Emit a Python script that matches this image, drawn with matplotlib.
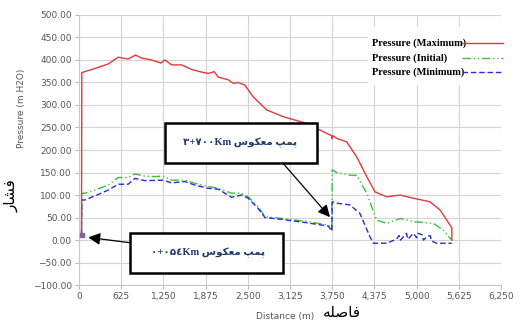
import numpy as np
import matplotlib.pyplot as plt
from matplotlib.patches import Rectangle
from matplotlib.ticker import FuncFormatter

# Maximum pressure (m H2O) along the line
x_max = [40, 44, 237, 434, 583, 731, 840, 928, 1076, 1215, 1274, 1373, 1521, 1669, 1817, 1916,
         2004, 2063, 2211, 2285, 2359, 2458, 2581, 2780, 3026, 3372, 3668, 3740, 3750, 3760, 3816,
         3964, 4112, 4261, 4384, 4557, 4754, 4951, 5198, 5346, 5494, 5520, 5522]
y_max = [12, 372, 381, 391, 406, 402, 411, 404, 400, 393, 400, 389, 389, 379, 373, 370,
         374, 362, 356, 348, 350, 344, 318, 289, 274, 259, 237, 232, 225, 232, 226,
         218, 185, 141, 107, 96, 100, 93, 85, 67, 33, 28, 0]

# Initial pressure
x_ini = [40, 44, 89, 237, 434, 583, 731, 829, 977, 1126, 1249, 1373, 1570, 1718, 1916, 2063,
         2261, 2409, 2507, 2656, 2755, 3002, 3397, 3693, 3745, 3750, 3816, 4013, 4112, 4261,
         4409, 4557, 4754, 4951, 5248, 5395, 5519]
y_ini = [12, 104, 104, 111, 122, 139, 139, 147, 142, 141, 142, 133, 133, 126, 119, 115,
         104, 104, 96, 74, 52, 48, 41, 33, 24, 156, 150, 144, 144, 104,
         44, 37, 48, 41, 37, 22, 0]

# Minimum pressure
x_min = [40, 44, 89, 237, 434, 583, 731, 829, 977, 1249, 1373, 1570, 1718, 1916, 2063, 2261,
         2409, 2507, 2656, 2755, 3002, 3397, 3693, 3745, 3750, 3816, 4013, 4161, 4310, 4359,
         4557, 4700, 4740, 4760, 4803, 4850, 4870, 4951, 5000, 5020, 5080, 5100, 5149, 5200,
         5220, 5297, 5519]
y_min = [12, 89, 89, 98, 111, 124, 124, 137, 132, 133, 127, 130, 122, 115, 113, 95,
         100, 93, 70, 50, 46, 38, 31, 20, 85, 82, 78, 59, 7, -7,
         -7, 2, 10, 0, 7, 15, 2, 15, 5, 15, 12, 0, 7, 10,
         -2, -7, -7]

legend_labels = ['Pressure (Maximum)', 'Pressure (Initial)', 'Pressure (Minimum)']
xticks = np.arange(0, 6251, 625)
yticks = np.arange(-100, 501, 50)

pump1_text = '\u06F3+\u06F7\u06F0\u06F0Km \uFEB1\uFEEE\uFB91\uFECC\uFEE3 \uFB57\uFEE4\uFB58'
pump2_text = '\u06F0+\u06F0\u06F5\u0664Km \uFEB1\uFEEE\uFB91\uFECC\uFEE3 \uFB57\uFEE4\uFB58'
pump1_at = (3717, 51)
pump2_at = (138, 6)
y_fa = '\uFEAD\uFE8E\uFEB8\uFED3'
x_fa = '\uFEEA\uFEE0\uFEBB\uFE8E\uFED3'

fig = plt.figure(figsize=(5.22, 3.24), dpi=100)
ax = fig.add_axes([0.151, 0.120, 0.809, 0.834])

styles = [dict(color='#e03a3a', lw=1.0),
          dict(color='#3cbf3c', lw=1.0, dashes=[6, 2, 1, 2, 1, 2]),
          dict(color='#2b2bd9', lw=1.0, dashes=[4, 2])]

ax.plot(x_ini, y_ini, zorder=3, **styles[1])
ax.plot(x_min, y_min, zorder=3, **styles[2])
ax.plot(x_max, y_max, zorder=4, **styles[0])
ax.plot([x_max[0]], [y_max[0]], marker='s', ms=2.5, color='#8060a0', zorder=5)

ax.set_xlim(0, 6250)
ax.set_ylim(-100, 500)
ax.set_xticks(xticks)
ax.set_yticks(yticks)
ax.xaxis.set_major_formatter(FuncFormatter(lambda v, p: f'{v:,.0f}'))
ax.yaxis.set_major_formatter(FuncFormatter(lambda v, p: f'{v:.2f}'.replace('-', '\u2212')))
ax.tick_params(labelsize=6.5, colors='#555555', length=3, width=0.6, color='#aaaaaa', pad=2)
ax.grid(True, color='#d4d4d4', lw=0.8)
ax.set_axisbelow(True)
for s in ax.spines.values():
    s.set_color('#c8c8c8')
    s.set_linewidth(0.8)
ax.spines['top'].set_visible(False)
ax.spines['right'].set_visible(False)

# legend: text left, line sample on the right
ax.add_patch(Rectangle((0.685, 0.741), 0.345, 0.215, transform=ax.transAxes,
                       facecolor='white', edgecolor='none', zorder=5, clip_on=False))
leg_y = [0.896, 0.841, 0.789]
for lab, st, yy in zip(legend_labels, styles, leg_y):
    ax.text(0.694, yy, lab, transform=ax.transAxes, ha='left', va='center', zorder=6,
            family='Liberation Serif', weight='bold', fontsize=7.5)
    ax.plot([0.908, 1.005], [yy, yy], transform=ax.transAxes, clip_on=False, zorder=6, **st)

# annotation boxes
box_font = {'family': ['Liberation Serif', 'DejaVu Sans'], 'weight': 'bold', 'size': 7.5}
ax.add_patch(Rectangle((0.204, 0.452), 0.360, 0.148, transform=ax.transAxes,
                       facecolor='white', edgecolor='black', lw=1.8, zorder=6))
ax.text(0.382, 0.526, pump1_text, transform=ax.transAxes, ha='center', va='center',
        color='#1f3a6a', zorder=7, **box_font)
ax.add_patch(Rectangle((0.121, 0.044), 0.362, 0.148, transform=ax.transAxes,
                       facecolor='white', edgecolor='black', lw=1.8, zorder=6))
ax.text(0.305, 0.118, pump2_text, transform=ax.transAxes, ha='center', va='center',
        color='#1f3a6a', zorder=7, **box_font)

arrow = dict(arrowstyle='-|>', mutation_scale=18, color='black', lw=0.9, shrinkA=0, shrinkB=0)
ax.annotate('', xy=pump1_at, xycoords='data', xytext=(0.483, 0.452), textcoords='axes fraction',
            arrowprops=arrow, zorder=7)
ax.annotate('', xy=pump2_at, xycoords='data', xytext=(0.121, 0.157), textcoords='axes fraction',
            arrowprops=arrow, zorder=7)

# axis titles
fig.text(0.042, 0.667, 'Pressure (m H2O)', rotation=90, ha='center', va='center',
         fontsize=6.5, color='#555555')
fig.text(0.022, 0.395, y_fa, rotation=90, ha='center', va='center', fontsize=11,
         color='black', family='DejaVu Sans')
fig.text(0.546, 0.022, 'Distance (m)', ha='center', va='center', fontsize=6.5, color='#555555')
fig.text(0.655, 0.034, x_fa, ha='center', va='center', fontsize=11, color='black',
         family='DejaVu Sans')

fig.savefig('out.png', dpi=100)
